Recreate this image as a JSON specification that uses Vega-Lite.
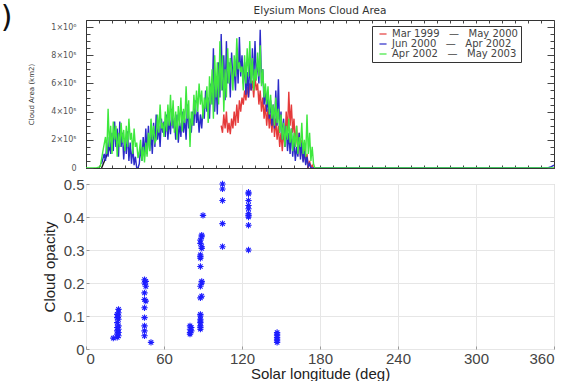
{
  "$schema": "https://vega.github.io/schema/vega-lite/v6.json",
  "padding": {"left": 0, "top": 2, "right": 5, "bottom": 0},
  "background": "white",
  "config": {"font": "Liberation Sans"},
  "spacing": 3,
  "datasets": {
    "area": [
      {"s":"k","x":12,"a":0},{"s":"k","x":16,"a":0.9},{"s":"k","x":21.5,"a":2.1},
      {"s":"r","x":104,"a":3.0},{"s":"r","x":105,"a":2.5},{"s":"r","x":106,"a":3.8},{"s":"r","x":107,"a":2.8},{"s":"r","x":108,"a":4.0},{"s":"r","x":109,"a":2.5},{"s":"r","x":110,"a":3.2},{"s":"r","x":111,"a":2.4},{"s":"r","x":112,"a":3.5},{"s":"r","x":113,"a":2.8},{"s":"r","x":114,"a":4.0},{"s":"r","x":115,"a":3.0},{"s":"r","x":116,"a":4.5},{"s":"r","x":117,"a":3.2},{"s":"r","x":118,"a":4.8},{"s":"r","x":119,"a":4.0},{"s":"r","x":120,"a":5.0},{"s":"r","x":121,"a":4.5},{"s":"r","x":122,"a":5.5},{"s":"r","x":123,"a":4.8},{"s":"r","x":124,"a":5.8},{"s":"r","x":125,"a":5.0},{"s":"r","x":126,"a":6.0},{"s":"r","x":127,"a":5.5},{"s":"r","x":128,"a":6.2},{"s":"r","x":129,"a":5.0},{"s":"r","x":130,"a":6.5},{"s":"r","x":131,"a":5.5},{"s":"r","x":132,"a":6.0},{"s":"r","x":133,"a":4.5},{"s":"r","x":134,"a":5.5},{"s":"r","x":135,"a":4.0},{"s":"r","x":136,"a":5.0},{"s":"r","x":137,"a":3.5},{"s":"r","x":138,"a":4.5},{"s":"r","x":139,"a":3.0},{"s":"r","x":140,"a":4.2},{"s":"r","x":141,"a":2.8},{"s":"r","x":142,"a":3.8},{"s":"r","x":143,"a":2.5},{"s":"r","x":144,"a":4.0},{"s":"r","x":145,"a":2.2},{"s":"r","x":146,"a":3.5},{"s":"r","x":147,"a":2.0},{"s":"r","x":148,"a":3.0},{"s":"r","x":149,"a":1.5},{"s":"r","x":150,"a":2.5},{"s":"r","x":151,"a":1.2},{"s":"r","x":152,"a":2.8},{"s":"r","x":153,"a":1.5},{"s":"r","x":154,"a":4.0},{"s":"r","x":155,"a":2.5},{"s":"r","x":156,"a":5.4},{"s":"r","x":157,"a":3.0},{"s":"r","x":158,"a":4.5},{"s":"r","x":159,"a":2.5},{"s":"r","x":160,"a":3.5},{"s":"r","x":161,"a":1.5},{"s":"r","x":162,"a":3.0},{"s":"r","x":163,"a":1.0},{"s":"r","x":164,"a":2.5},{"s":"r","x":165,"a":0.8},{"s":"r","x":166,"a":2.0},{"s":"r","x":167,"a":0.5},{"s":"r","x":168,"a":1.5},{"s":"r","x":169,"a":0.3},{"s":"r","x":170,"a":1.0},{"s":"r","x":171,"a":0},{"s":"r","x":172,"a":0.5},{"s":"r","x":173,"a":0},{"s":"r","x":174,"a":0.2},{"s":"r","x":175,"a":0},
      {"s":"b","x":12,"a":0.3},{"s":"b","x":14,"a":1.0},{"s":"b","x":15,"a":0.5},{"s":"b","x":16,"a":1.8},{"s":"b","x":17,"a":0.8},{"s":"b","x":18,"a":2.2},{"s":"b","x":19,"a":1.0},{"s":"b","x":20,"a":2.5},{"s":"b","x":21,"a":1.2},{"s":"b","x":22,"a":3.3},{"s":"b","x":23,"a":1.5},{"s":"b","x":24,"a":2.8},{"s":"b","x":25,"a":0.8},{"s":"b","x":26,"a":3.3},{"s":"b","x":27,"a":1.5},{"s":"b","x":28,"a":2.5},{"s":"b","x":29,"a":0.6},{"s":"b","x":30,"a":2.0},{"s":"b","x":31,"a":1.0},{"s":"b","x":32,"a":2.6},{"s":"b","x":33,"a":0.5},{"s":"b","x":34,"a":1.8},{"s":"b","x":35,"a":0.3},{"s":"b","x":36,"a":1.5},{"s":"b","x":37,"a":0.2},{"s":"b","x":38,"a":0.8},{"s":"b","x":39,"a":0},{"s":"b","x":40,"a":0},{"s":"b","x":41,"a":0.3},{"s":"b","x":42,"a":1.5},{"s":"b","x":43,"a":0.5},{"s":"b","x":44,"a":2.2},{"s":"b","x":45,"a":0.8},{"s":"b","x":46,"a":2.8},{"s":"b","x":47,"a":1.0},{"s":"b","x":48,"a":3.0},{"s":"b","x":49,"a":1.2},{"s":"b","x":50,"a":2.5},{"s":"b","x":51,"a":1.0},{"s":"b","x":52,"a":3.2},{"s":"b","x":53,"a":1.5},{"s":"b","x":54,"a":3.8},{"s":"b","x":55,"a":2.0},{"s":"b","x":56,"a":3.0},{"s":"b","x":57,"a":1.5},{"s":"b","x":58,"a":3.5},{"s":"b","x":59,"a":2.5},{"s":"b","x":60,"a":3.3},{"s":"b","x":61,"a":2.2},{"s":"b","x":62,"a":3.8},{"s":"b","x":63,"a":2.0},{"s":"b","x":64,"a":3.5},{"s":"b","x":65,"a":2.4},{"s":"b","x":66,"a":4.2},{"s":"b","x":67,"a":2.8},{"s":"b","x":68,"a":3.5},{"s":"b","x":69,"a":2.0},{"s":"b","x":70,"a":3.8},{"s":"b","x":71,"a":1.8},{"s":"b","x":72,"a":3.2},{"s":"b","x":73,"a":2.2},{"s":"b","x":74,"a":4.0},{"s":"b","x":75,"a":2.5},{"s":"b","x":76,"a":3.5},{"s":"b","x":77,"a":2.0},{"s":"b","x":78,"a":4.5},{"s":"b","x":79,"a":2.8},{"s":"b","x":80,"a":3.5},{"s":"b","x":81,"a":2.5},{"s":"b","x":82,"a":4.0},{"s":"b","x":83,"a":3.0},{"s":"b","x":84,"a":4.8},{"s":"b","x":85,"a":3.2},{"s":"b","x":86,"a":4.0},{"s":"b","x":87,"a":2.5},{"s":"b","x":88,"a":3.8},{"s":"b","x":89,"a":2.8},{"s":"b","x":90,"a":4.2},{"s":"b","x":91,"a":3.5},{"s":"b","x":92,"a":5.5},{"s":"b","x":93,"a":4.0},{"s":"b","x":94,"a":5.0},{"s":"b","x":95,"a":3.5},{"s":"b","x":96,"a":6.0},{"s":"b","x":97,"a":4.5},{"s":"b","x":98,"a":8.5},{"s":"b","x":99,"a":4.0},{"s":"b","x":100,"a":6.5},{"s":"b","x":101,"a":3.8},{"s":"b","x":102,"a":7.5},{"s":"b","x":103,"a":5.0},{"s":"b","x":104,"a":9.5},{"s":"b","x":105,"a":5.5},{"s":"b","x":106,"a":8.0},{"s":"b","x":107,"a":4.8},{"s":"b","x":108,"a":9.0},{"s":"b","x":109,"a":6.0},{"s":"b","x":110,"a":7.5},{"s":"b","x":111,"a":5.0},{"s":"b","x":112,"a":8.2},{"s":"b","x":113,"a":6.2},{"s":"b","x":114,"a":7.0},{"s":"b","x":115,"a":5.5},{"s":"b","x":116,"a":8.5},{"s":"b","x":117,"a":6.0},{"s":"b","x":118,"a":9.3},{"s":"b","x":119,"a":6.5},{"s":"b","x":120,"a":8.0},{"s":"b","x":121,"a":6.0},{"s":"b","x":122,"a":7.5},{"s":"b","x":123,"a":5.2},{"s":"b","x":124,"a":6.8},{"s":"b","x":125,"a":5.0},{"s":"b","x":126,"a":7.8},{"s":"b","x":127,"a":5.5},{"s":"b","x":128,"a":8.5},{"s":"b","x":129,"a":6.0},{"s":"b","x":130,"a":9.0},{"s":"b","x":131,"a":6.5},{"s":"b","x":132,"a":7.5},{"s":"b","x":133,"a":6.0},{"s":"b","x":134,"a":9.8},{"s":"b","x":135,"a":6.0},{"s":"b","x":136,"a":7.0},{"s":"b","x":137,"a":4.5},{"s":"b","x":138,"a":5.5},{"s":"b","x":139,"a":4.0},{"s":"b","x":140,"a":5.0},{"s":"b","x":141,"a":3.5},{"s":"b","x":142,"a":4.8},{"s":"b","x":143,"a":3.0},{"s":"b","x":144,"a":4.5},{"s":"b","x":145,"a":2.8},{"s":"b","x":146,"a":5.5},{"s":"b","x":147,"a":3.0},{"s":"b","x":148,"a":6.3},{"s":"b","x":149,"a":2.5},{"s":"b","x":150,"a":4.0},{"s":"b","x":151,"a":2.0},{"s":"b","x":152,"a":3.5},{"s":"b","x":153,"a":1.5},{"s":"b","x":154,"a":3.0},{"s":"b","x":155,"a":1.2},{"s":"b","x":156,"a":2.5},{"s":"b","x":157,"a":1.0},{"s":"b","x":158,"a":2.8},{"s":"b","x":159,"a":0.8},{"s":"b","x":160,"a":2.0},{"s":"b","x":161,"a":0.5},{"s":"b","x":162,"a":1.5},{"s":"b","x":163,"a":0.8},{"s":"b","x":164,"a":2.5},{"s":"b","x":165,"a":0.6},{"s":"b","x":166,"a":1.8},{"s":"b","x":167,"a":0.4},{"s":"b","x":168,"a":1.2},{"s":"b","x":169,"a":0.2},{"s":"b","x":170,"a":0.8},{"s":"b","x":171,"a":0.1},{"s":"b","x":172,"a":0.3},{"s":"b","x":173,"a":0},{"s":"b","x":180,"a":0},{"s":"b","x":250,"a":0},{"s":"b","x":300,"a":0},{"s":"b","x":355,"a":0},{"s":"b","x":358,"a":0.1},{"s":"b","x":360,"a":0.2},
      {"s":"g","x":0,"a":0},{"s":"g","x":4,"a":0},{"s":"g","x":8,"a":0},{"s":"g","x":11,"a":0.1},{"s":"g","x":13,"a":1.2},{"s":"g","x":15,"a":2.2},{"s":"g","x":16,"a":1.0},{"s":"g","x":17,"a":4.2},{"s":"g","x":18,"a":1.5},{"s":"g","x":19,"a":3.0},{"s":"g","x":20,"a":1.0},{"s":"g","x":21,"a":3.3},{"s":"g","x":22,"a":2.0},{"s":"g","x":23,"a":3.0},{"s":"g","x":24,"a":0.8},{"s":"g","x":25,"a":2.5},{"s":"g","x":26,"a":1.5},{"s":"g","x":27,"a":3.2},{"s":"g","x":28,"a":1.8},{"s":"g","x":29,"a":2.7},{"s":"g","x":30,"a":1.2},{"s":"g","x":31,"a":3.0},{"s":"g","x":32,"a":1.5},{"s":"g","x":33,"a":3.5},{"s":"g","x":34,"a":2.0},{"s":"g","x":35,"a":2.5},{"s":"g","x":36,"a":1.0},{"s":"g","x":37,"a":2.8},{"s":"g","x":38,"a":1.5},{"s":"g","x":39,"a":1.8},{"s":"g","x":40,"a":0.7},{"s":"g","x":41,"a":1.2},{"s":"g","x":42,"a":2.0},{"s":"g","x":43,"a":0.5},{"s":"g","x":44,"a":1.5},{"s":"g","x":45,"a":0.4},{"s":"g","x":46,"a":1.8},{"s":"g","x":47,"a":0.8},{"s":"g","x":48,"a":2.5},{"s":"g","x":49,"a":1.2},{"s":"g","x":50,"a":3.5},{"s":"g","x":51,"a":2.0},{"s":"g","x":52,"a":3.0},{"s":"g","x":53,"a":1.8},{"s":"g","x":54,"a":2.0},{"s":"g","x":55,"a":3.8},{"s":"g","x":56,"a":2.5},{"s":"g","x":57,"a":4.5},{"s":"g","x":58,"a":2.8},{"s":"g","x":59,"a":3.2},{"s":"g","x":60,"a":2.2},{"s":"g","x":61,"a":4.0},{"s":"g","x":62,"a":2.6},{"s":"g","x":63,"a":4.5},{"s":"g","x":64,"a":3.0},{"s":"g","x":65,"a":5.2},{"s":"g","x":66,"a":3.0},{"s":"g","x":67,"a":4.8},{"s":"g","x":68,"a":2.5},{"s":"g","x":69,"a":4.0},{"s":"g","x":70,"a":2.0},{"s":"g","x":71,"a":4.4},{"s":"g","x":72,"a":3.0},{"s":"g","x":73,"a":5.0},{"s":"g","x":74,"a":2.6},{"s":"g","x":75,"a":4.2},{"s":"g","x":76,"a":3.2},{"s":"g","x":77,"a":5.8},{"s":"g","x":78,"a":3.5},{"s":"g","x":79,"a":4.8},{"s":"g","x":80,"a":1.5},{"s":"g","x":81,"a":4.0},{"s":"g","x":82,"a":3.0},{"s":"g","x":83,"a":5.2},{"s":"g","x":84,"a":3.8},{"s":"g","x":85,"a":5.5},{"s":"g","x":86,"a":4.0},{"s":"g","x":87,"a":6.0},{"s":"g","x":88,"a":4.5},{"s":"g","x":89,"a":5.5},{"s":"g","x":90,"a":3.5},{"s":"g","x":91,"a":5.0},{"s":"g","x":92,"a":4.2},{"s":"g","x":93,"a":5.8},{"s":"g","x":94,"a":3.2},{"s":"g","x":95,"a":6.5},{"s":"g","x":96,"a":4.5},{"s":"g","x":97,"a":7.0},{"s":"g","x":98,"a":3.5},{"s":"g","x":99,"a":8.0},{"s":"g","x":100,"a":5.0},{"s":"g","x":101,"a":7.5},{"s":"g","x":102,"a":4.5},{"s":"g","x":103,"a":9.0},{"s":"g","x":104,"a":5.5},{"s":"g","x":105,"a":8.0},{"s":"g","x":106,"a":4.0},{"s":"g","x":107,"a":7.0},{"s":"g","x":108,"a":5.0},{"s":"g","x":109,"a":8.5},{"s":"g","x":110,"a":6.0},{"s":"g","x":111,"a":7.8},{"s":"g","x":112,"a":7.0},{"s":"g","x":113,"a":5.5},{"s":"g","x":114,"a":8.0},{"s":"g","x":115,"a":6.5},{"s":"g","x":116,"a":9.2},{"s":"g","x":117,"a":7.0},{"s":"g","x":118,"a":7.5},{"s":"g","x":119,"a":6.8},{"s":"g","x":120,"a":7.2},{"s":"g","x":121,"a":5.5},{"s":"g","x":122,"a":8.0},{"s":"g","x":123,"a":6.0},{"s":"g","x":124,"a":8.5},{"s":"g","x":125,"a":6.5},{"s":"g","x":126,"a":9.0},{"s":"g","x":127,"a":6.0},{"s":"g","x":128,"a":7.8},{"s":"g","x":129,"a":5.5},{"s":"g","x":130,"a":7.0},{"s":"g","x":131,"a":6.2},{"s":"g","x":132,"a":8.2},{"s":"g","x":133,"a":6.5},{"s":"g","x":134,"a":8.7},{"s":"g","x":135,"a":5.8},{"s":"g","x":136,"a":7.0},{"s":"g","x":137,"a":5.0},{"s":"g","x":138,"a":6.0},{"s":"g","x":139,"a":4.5},{"s":"g","x":140,"a":5.8},{"s":"g","x":141,"a":3.8},{"s":"g","x":142,"a":5.2},{"s":"g","x":143,"a":3.5},{"s":"g","x":144,"a":4.5},{"s":"g","x":145,"a":3.0},{"s":"g","x":146,"a":5.0},{"s":"g","x":147,"a":3.2},{"s":"g","x":148,"a":4.2},{"s":"g","x":149,"a":2.5},{"s":"g","x":150,"a":3.8},{"s":"g","x":151,"a":2.0},{"s":"g","x":152,"a":3.2},{"s":"g","x":153,"a":1.5},{"s":"g","x":154,"a":3.0},{"s":"g","x":155,"a":2.0},{"s":"g","x":156,"a":3.5},{"s":"g","x":157,"a":1.8},{"s":"g","x":158,"a":2.8},{"s":"g","x":159,"a":1.2},{"s":"g","x":160,"a":2.5},{"s":"g","x":161,"a":1.5},{"s":"g","x":162,"a":3.0},{"s":"g","x":163,"a":1.0},{"s":"g","x":164,"a":2.2},{"s":"g","x":165,"a":1.5},{"s":"g","x":166,"a":3.2},{"s":"g","x":167,"a":1.0},{"s":"g","x":168,"a":2.0},{"s":"g","x":169,"a":0.8},{"s":"g","x":170,"a":3.8},{"s":"g","x":171,"a":1.0},{"s":"g","x":172,"a":2.5},{"s":"g","x":173,"a":0.5},{"s":"g","x":174,"a":1.5},{"s":"g","x":175,"a":0.3},{"s":"g","x":176,"a":0},{"s":"g","x":180,"a":0},{"s":"g","x":200,"a":0},{"s":"g","x":240,"a":0},{"s":"g","x":300,"a":0},{"s":"g","x":360,"a":0}
    ],
    "opacity": [
      {"ls":21,"op":0.033},
      {"ls":24,"op":0.035},{"ls":25,"op":0.04},{"ls":24,"op":0.045},{"ls":25,"op":0.05},{"ls":24,"op":0.055},{"ls":25,"op":0.06},{"ls":24,"op":0.065},{"ls":25,"op":0.07},{"ls":24,"op":0.08},{"ls":25,"op":0.09},{"ls":24,"op":0.095},{"ls":25,"op":0.1},{"ls":24,"op":0.105},{"ls":25,"op":0.11},{"ls":25,"op":0.12},
      {"ls":45,"op":0.21},{"ls":46,"op":0.205},{"ls":45,"op":0.2},{"ls":46,"op":0.19},{"ls":45,"op":0.17},{"ls":45,"op":0.15},{"ls":46,"op":0.145},{"ls":45,"op":0.125},{"ls":45,"op":0.095},{"ls":45,"op":0.07},{"ls":45,"op":0.055},{"ls":45,"op":0.04},
      {"ls":50,"op":0.02},
      {"ls":80,"op":0.045},{"ls":80,"op":0.05},{"ls":81,"op":0.055},{"ls":80,"op":0.06},{"ls":81,"op":0.065},{"ls":80,"op":0.07},
      {"ls":88,"op":0.06},{"ls":88,"op":0.065},{"ls":88,"op":0.07},{"ls":88,"op":0.08},{"ls":88,"op":0.085},{"ls":88,"op":0.09},{"ls":88,"op":0.1},{"ls":88,"op":0.105},{"ls":88,"op":0.155},{"ls":88,"op":0.19},{"ls":88,"op":0.275},{"ls":88,"op":0.28},{"ls":88,"op":0.285},{"ls":88,"op":0.32},{"ls":88,"op":0.33},
      {"ls":89,"op":0.16},{"ls":89,"op":0.2},{"ls":89,"op":0.205},{"ls":88,"op":0.25},{"ls":89,"op":0.305},{"ls":89,"op":0.31},{"ls":89,"op":0.34},{"ls":89,"op":0.345},{"ls":90,"op":0.405},
      {"ls":105,"op":0.5},{"ls":105,"op":0.485},{"ls":105,"op":0.45},{"ls":105,"op":0.38},{"ls":105,"op":0.31},
      {"ls":125,"op":0.475},{"ls":125,"op":0.47},{"ls":125,"op":0.45},{"ls":125,"op":0.435},{"ls":125,"op":0.425},{"ls":125,"op":0.41},{"ls":125,"op":0.405},{"ls":125,"op":0.4},{"ls":125,"op":0.375},{"ls":125,"op":0.3},
      {"ls":147,"op":0.02},{"ls":147,"op":0.025},{"ls":147,"op":0.03},{"ls":147,"op":0.035},{"ls":147,"op":0.04},{"ls":147,"op":0.045},{"ls":147,"op":0.05}
    ],
    "mark": [{"t": ")"}],
    "heading": [{"t": "Elysium Mons Cloud Area"}]
  },
  "vconcat": [
    {
      "width": 468,
      "height": 148,
      "view": {"stroke": "#333", "strokeWidth": 1},
      "resolve": {"axis": {"x": "independent", "y": "independent"}},
      "layer": [
        {
          "data": {"name": "area"},
          "mark": {"type": "line", "strokeWidth": 1.4, "clip": true},
          "encoding": {
            "x": {"field": "x", "type": "quantitative", "scale": {"domain": [0, 360], "nice": false},
              "axis": {"orient": "bottom", "values": [0,10,20,30,40,50,60,70,80,90,100,110,120,130,140,150,160,170,180,190,200,210,220,230,240,250,260,270,280,290,300,310,320,330,340,350,360], "labels": false, "title": null, "grid": false, "tickSize": -3, "tickColor": "#444", "domainColor": "#333"}},
            "y": {"field": "a", "type": "quantitative", "scale": {"domain": [0, 10.5], "nice": false},
              "axis": {"orient": "left", "values": [0,0.5,1,1.5,2,2.5,3,3.5,4,4.5,5,5.5,6,6.5,7,7.5,8,8.5,9,9.5,10],
                "labelExpr": "datum.value == 0 ? '0' : datum.value == 10 ? '1×10⁶' : (datum.value % 2 == 0 ? datum.value + '×10⁵' : '')",
                "tickSize": {"condition": {"test": "datum.value % 2 == 0", "value": -7}, "value": -4},
                "labelFont": "DejaVu Sans", "labelFontSize": 8, "labelColor": "#555", "labelPadding": 17,
                "title": "Cloud Area (km2)", "titleFont": "DejaVu Sans", "titleFontSize": 7, "titleFontWeight": "normal", "titleColor": "#333", "titlePadding": 16,
                "grid": false, "tickColor": "#444", "domainColor": "#333"}},
            "color": {"field": "s", "type": "nominal",
              "scale": {"domain": ["r", "b", "g", "k"], "range": ["#e53b3b", "#2b2bc8", "#3ee83e", "#1a1a1a"]},
              "legend": {"values": ["r", "b", "g"], "orient": "none", "legendX": 286, "legendY": 6, "title": null,
                "labelExpr": "datum.label == 'r' ? 'Mar 1999\u00a0\u00a0\u00a0—\u00a0\u00a0\u00a0May 2000' : datum.label == 'b' ? 'Jun 2000\u00a0\u00a0\u00a0—\u00a0\u00a0\u00a0Apr 2002' : 'Apr 2002\u00a0\u00a0\u00a0—\u00a0\u00a0\u00a0May 2003'",
                "symbolType": "stroke", "symbolStrokeWidth": 1.2, "symbolSize": 50, "labelFont": "DejaVu Sans", "labelFontSize": 10, "labelColor": "#444",
                "strokeColor": "#333", "fillColor": "white", "padding": 3, "rowPadding": -1, "cornerRadius": 0, "symbolOffset": 3}}
          }
        },
        {
          "data": {"name": "mark"},
          "mark": {"type": "text", "fontSize": 30, "font": "DejaVu Sans", "color": "#111", "baseline": "middle", "align": "center"},
          "encoding": {
            "x": {"datum": -61, "type": "quantitative", "axis": {"orient": "top", "values": [0,10,20,30,40,50,60,70,80,90,100,110,120,130,140,150,160,170,180,190,200,210,220,230,240,250,260,270,280,290,300,310,320,330,340,350,360], "labels": false, "title": null, "grid": false, "tickSize": -3, "tickColor": "#444", "domain": false}},
            "y": {"datum": 10.64, "type": "quantitative", "axis": {"orient": "right", "values": [0,0.5,1,1.5,2,2.5,3,3.5,4,4.5,5,5.5,6,6.5,7,7.5,8,8.5,9,9.5,10], "labels": false, "title": null, "grid": false, "tickSize": {"condition": {"test": "datum.value % 2 == 0", "value": -7}, "value": -4}, "tickColor": "#444", "domain": false}},
            "text": {"field": "t"}
          }
        },
        {
          "data": {"name": "heading"},
          "mark": {"type": "text", "fontSize": 10.5, "font": "DejaVu Sans", "color": "#333", "baseline": "middle", "align": "center"},
          "encoding": {
            "x": {"datum": 180, "type": "quantitative", "axis": null},
            "y": {"datum": 11.14, "type": "quantitative", "axis": null},
            "text": {"field": "t"}
          }
        }
      ]
    },
    {
      "width": 468,
      "height": 165,
      "view": {"stroke": "#c4c4c4", "strokeWidth": 1},
      "data": {"name": "opacity"},
      "mark": {"type": "point", "shape": "M0,-1L0,1M-1,0L1,0M-0.7,-0.7L0.7,0.7M-0.7,0.7L0.7,-0.7", "filled": false, "size": 40, "strokeWidth": 1.1, "color": "#1d1dff", "opacity": 1, "clip": false},
      "encoding": {
        "x": {"field": "ls", "type": "quantitative", "scale": {"domain": [0, 360], "nice": false},
          "axis": {"values": [0, 60, 120, 180, 240, 300, 360], "grid": true, "gridColor": "#e6e6e6", "domain": false, "tickSize": -3, "tickColor": "#999",
            "labelFontSize": 15, "labelColor": "#444", "labelPadding": 5, "title": "Solar longitude (deg)", "titleFontSize": 15, "titleFontWeight": "normal", "titleColor": "#222", "titlePadding": 0}},
        "y": {"field": "op", "type": "quantitative", "scale": {"domain": [0, 0.5], "nice": false},
          "axis": {"values": [0, 0.1, 0.2, 0.3, 0.4, 0.5], "format": "~g", "grid": true, "gridColor": "#e6e6e6", "domain": false, "tickSize": -3, "tickColor": "#999",
            "labelFontSize": 15, "labelColor": "#444", "labelPadding": 5, "title": "Cloud opacity", "titleFontSize": 15, "titleFontWeight": "normal", "titleColor": "#222", "titlePadding": 6}}
      }
    }
  ]
}
